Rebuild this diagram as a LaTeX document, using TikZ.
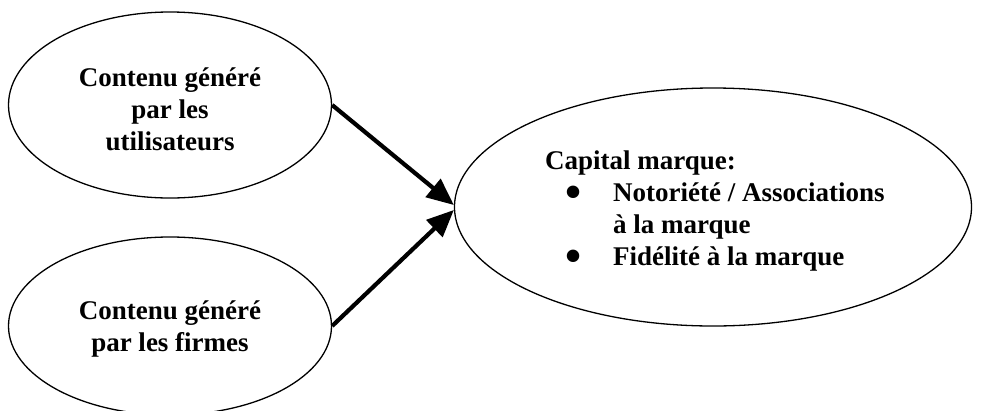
\documentclass[tikz,border=0pt]{standalone}
\usepackage{fontspec}
\setmainfont{Liberation Serif}
\usetikzlibrary{shapes.geometric,arrows.meta}
\newcommand{\bigbul}{\raisebox{-6pt}{\scalebox{1.7}{•}}}
\begin{document}
\begin{tikzpicture}[x=1pt,y=-1pt,
  oval/.style={ellipse,draw,line width=1.3pt,inner sep=0pt},
  lbl/.style={font=\fontsize{27}{32}\selectfont\bfseries,align=center,inner sep=0pt},
  arr/.style={line width=4.2pt,-{Triangle[length=27pt,width=23pt]}}]
\useasboundingbox (0,0) rectangle (992,410);
\node[oval,minimum width=323pt,minimum height=186pt] (e1) at (170,105) {};
\node[oval,minimum width=323pt,minimum height=178pt] (e2) at (170,326) {};
\node[oval,minimum width=517pt,minimum height=238pt] (e3) at (713,207) {};
\node[lbl] (t1) at (170,109) {Contenu généré\\par les\\utilisateurs};
\node[lbl] (t2) at (170,329) {Contenu généré\\par les firmes};
\node[lbl,align=left,anchor=west] (t3) at (545,211) {Capital marque:\\
\makebox[68pt][l]{\hspace{20pt}\bigbul}Notoriété / Associations\\
\hspace*{68pt}à la marque\\
\makebox[68pt][l]{\hspace{20pt}\bigbul}Fidélité à la marque};
\draw[arr] (e1.east) -- ([yshift=2pt]e3.west);
\draw[arr] (e2.east) -- ([yshift=-3pt]e3.west);
\end{tikzpicture}
\end{document}
